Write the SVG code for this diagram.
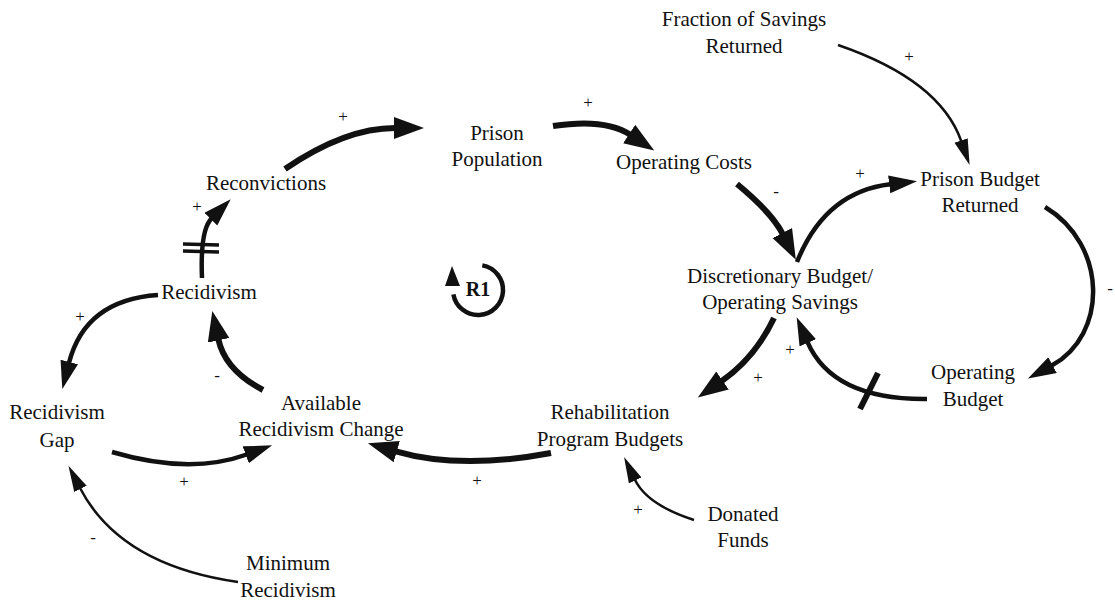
<svg xmlns="http://www.w3.org/2000/svg" width="1115" height="602" viewBox="0 0 1115 602">
<style>
text{font-family:"Liberation Serif","Times New Roman",serif;fill:#111}
.n{font-size:21px;text-anchor:middle}
.p{font-size:17px;text-anchor:middle}
.c{fill:none;stroke:#111;stroke-linecap:butt}
.w6{stroke-width:6}
.w4{stroke-width:4.5}
.w2{stroke-width:2.5}
.big{marker-end:url(#hb)}
.mid{marker-end:url(#hm)}
.sm{marker-end:url(#hs)}
.hash{stroke:#111;stroke-width:6;fill:none}
</style>
<defs>
<marker id="hb" markerUnits="userSpaceOnUse" markerWidth="32" markerHeight="24" refX="1" refY="11" orient="auto" viewBox="0 0 32 24"><path d="M0,0 L30,11 L0,22 z" fill="#111"/></marker>
<marker id="hm" markerUnits="userSpaceOnUse" markerWidth="30" markerHeight="20" refX="1" refY="9" orient="auto" viewBox="0 0 30 20"><path d="M0,0 L28,9 L0,18 z" fill="#111"/></marker>
<marker id="hs" markerUnits="userSpaceOnUse" markerWidth="28" markerHeight="16" refX="1" refY="7" orient="auto" viewBox="0 0 28 16"><path d="M0,0 L26,7 L0,14 z" fill="#111"/></marker>
</defs>
<rect width="1115" height="602" fill="#fff"/>
<g id="connectors">
<path class="c w6 big" d="M285,169 Q345,128 395,128"/>
<path class="c w6 big" d="M553,126 Q605,118 630,134.5"/>
<path class="c w6 big" d="M737,184 Q772,213 782.7,234"/>
<path class="c w4 mid" d="M797,262 Q825,192 890.2,184.3"/>
<path class="c w2 sm" d="M838,45 Q940,80 961.4,141.5"/>
<path class="c w4 mid" d="M1045,207 C1108,245 1108,335 1051.7,365.6"/>
<path class="c w4 mid" d="M927,399 Q832.6,400 807.4,341.9"/>
<line class="hash" x1="878" y1="373" x2="860" y2="409"/>
<path class="c w6 big" d="M774,318 Q755,358 721.7,381"/>
<path class="c w6 big" d="M551,453 Q460,470 395.8,451.4"/>
<path class="c w2 sm" d="M694,520 Q646.8,504.7 634.8,479.5"/>
<path class="c w4 mid" d="M112,452 Q190,475 246.7,454.5"/>
<path class="c w2 sm" d="M238,582 Q120,565 80,488"/>
<path class="c w6 big" d="M263,390 Q225,370 218.4,339.3"/>
<path class="c w4 mid" d="M158,295 Q85,300 69,362.9"/>
<path class="c w4 mid" d="M202,278 Q200,230 211.6,218.4"/>
<line class="hash" x1="183" y1="244" x2="219" y2="245" style="stroke-width:3.5"/>
<line class="hash" x1="183" y1="251" x2="219" y2="252" style="stroke-width:3.5"/>
<path class="c w4" d="M482.3,265.4 A25,25 0 1 1 453.4,294.3"/>
<path d="M452,266 L445,286 L460,286 z" fill="#111"/>
</g>
<g id="polarities">
<text class="p" x="343" y="122">+</text>
<text class="p" x="588" y="108">+</text>
<text class="p" x="776" y="197">-</text>
<text class="p" x="860" y="179">+</text>
<text class="p" x="909" y="62">+</text>
<text class="p" x="1110" y="294">-</text>
<text class="p" x="790" y="355">+</text>
<text class="p" x="758" y="383">+</text>
<text class="p" x="477" y="486">+</text>
<text class="p" x="638" y="515">+</text>
<text class="p" x="184" y="487">+</text>
<text class="p" x="93" y="543">-</text>
<text class="p" x="217" y="381">-</text>
<text class="p" x="80" y="322">+</text>
<text class="p" x="197" y="212">+</text>
</g>
<g id="loop-R1"><text x="478" y="296" style="font-size:20px;font-weight:bold;text-anchor:middle">R1</text></g>
<g id="node-fraction"><text class="n" x="744" y="26">Fraction of Savings</text><text class="n" x="744" y="53">Returned</text></g>
<g id="node-prison-population"><text class="n" x="497" y="140">Prison</text><text class="n" x="497" y="166">Population</text></g>
<g id="node-operating-costs"><text class="n" x="684" y="169">Operating Costs</text></g>
<g id="node-prison-budget-returned"><text class="n" x="980" y="186">Prison Budget</text><text class="n" x="980" y="212">Returned</text></g>
<g id="node-reconvictions"><text class="n" x="266" y="190">Reconvictions</text></g>
<g id="node-discretionary"><text class="n" x="780" y="283">Discretionary Budget/</text><text class="n" x="780" y="309">Operating Savings</text></g>
<g id="node-recidivism"><text class="n" x="209" y="299">Recidivism</text></g>
<g id="node-operating-budget"><text class="n" x="973" y="379">Operating</text><text class="n" x="973" y="406">Budget</text></g>
<g id="node-recidivism-gap"><text class="n" x="57" y="419">Recidivism</text><text class="n" x="57" y="447">Gap</text></g>
<g id="node-available"><text class="n" x="321" y="410">Available</text><text class="n" x="321" y="436">Recidivism Change</text></g>
<g id="node-rehab"><text class="n" x="610" y="419">Rehabilitation</text><text class="n" x="610" y="446">Program Budgets</text></g>
<g id="node-donated"><text class="n" x="743" y="521">Donated</text><text class="n" x="743" y="547">Funds</text></g>
<g id="node-minimum"><text class="n" x="288" y="570">Minimum</text><text class="n" x="288" y="597">Recidivism</text></g>
</svg>
